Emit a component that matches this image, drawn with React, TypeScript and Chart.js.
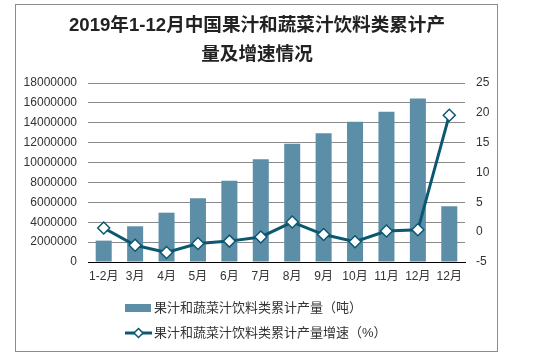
import React, { useEffect, useRef } from "react";
import { Chart, registerables } from "chart.js";

Chart.register(...registerables);

const categories = ["1-2月", "3月", "4月", "5月", "6月", "7月", "8月", "9月", "10月", "11月", "12月", "12月"];
const outputTons = [2150000, 3590000, 4960000, 6400000, 8180000, 10320000, 11900000, 12940000, 14110000, 15120000, 16430000, 5600000];
const growthPct = [0.7, -2.2, -3.4, -1.9, -1.5, -0.8, 1.7, -0.4, -1.6, 0.2, 0.4, 19.6];
const titleLines = ["2019年1-12月中国果汁和蔬菜汁饮料类累计产", "量及增速情况"];
const seriesNames = ["果汁和蔬菜汁饮料类累计产量（吨）", "果汁和蔬菜汁饮料类累计产量增速（%）"];

const FONT = '"Liberation Sans", Arial, "Noto Sans CJK SC", sans-serif';
const BAR_COLOR = "#5c8fa7";
const LINE_COLOR = "#0b5870";

const decorPlugin = {
  id: "decor",
  beforeDraw(chart: any) {
    const ctx = chart.ctx;
    ctx.save();
    ctx.fillStyle = "#ffffff";
    ctx.fillRect(0, 0, chart.width, chart.height);
    ctx.strokeStyle = "#8c8c8c";
    ctx.lineWidth = 1;
    ctx.strokeRect(15.5, 4.5, 482, 347);
    ctx.restore();
  },
  afterDraw(chart: any) {
    const ctx = chart.ctx;
    ctx.save();
    // title
    ctx.fillStyle = "#222222";
    ctx.font = `bold 18.6px ${FONT}`;
    ctx.textAlign = "center";
    ctx.textBaseline = "middle";
    ctx.fillText(titleLines[0], 257, 26);
    ctx.fillText(titleLines[1], 257, 55);
    // legend
    ctx.font = `13px ${FONT}`;
    ctx.textAlign = "left";
    ctx.fillStyle = BAR_COLOR;
    ctx.fillRect(125, 304, 26, 8);
    ctx.fillStyle = "#333333";
    ctx.fillText(seriesNames[0], 154, 308.5);
    ctx.strokeStyle = LINE_COLOR;
    ctx.lineWidth = 3;
    ctx.beginPath();
    ctx.moveTo(125, 333);
    ctx.lineTo(152, 333);
    ctx.stroke();
    ctx.fillStyle = "#ffffff";
    ctx.lineWidth = 1.5;
    ctx.beginPath();
    ctx.moveTo(138.5, 328.5);
    ctx.lineTo(143, 333);
    ctx.lineTo(138.5, 337.5);
    ctx.lineTo(134, 333);
    ctx.closePath();
    ctx.fill();
    ctx.stroke();
    ctx.fillStyle = "#333333";
    ctx.fillText(seriesNames[1], 154, 333.5);
    ctx.restore();
  },
};

export default function App() {
  const canvasRef = useRef<HTMLCanvasElement | null>(null);

  useEffect(() => {
    if (!canvasRef.current) return;
    const chart = new Chart(canvasRef.current, {
      type: "bar",
      data: {
        labels: categories,
        datasets: [
          {
            type: "line",
            label: seriesNames[1],
            data: growthPct,
            yAxisID: "y1",
            borderColor: LINE_COLOR,
            borderWidth: 3,
            pointStyle: "rectRot",
            pointRadius: 6,
            pointBorderWidth: 1.5,
            pointBackgroundColor: "#ffffff",
            pointBorderColor: LINE_COLOR,
            tension: 0,
            order: 0,
          } as any,
          {
            type: "bar",
            label: seriesNames[0],
            data: outputTons,
            yAxisID: "y",
            backgroundColor: BAR_COLOR,
            barPercentage: 0.51,
            categoryPercentage: 1,
            order: 1,
          },
        ],
      },
      options: {
        animation: false,
        responsive: false,
        maintainAspectRatio: false,
        layout: { padding: { top: 83, left: 0, right: 0, bottom: 69 } },
        plugins: {
          legend: { display: false },
          title: { display: false },
          tooltip: { enabled: false },
        },
        scales: {
          x: {
            grid: { display: false, drawTicks: false },
            border: { display: true, color: "#000000", width: 1 },
            ticks: {
              color: "#333333",
              font: { family: FONT, size: 12 },
              padding: 7,
              maxRotation: 0,
              autoSkip: false,
            },
            afterFit(scale: any) {
              scale.height = 30;
            },
          },
          y: {
            position: "left",
            min: 0,
            max: 18000000,
            grid: { color: "#8a8a8a", drawTicks: false, lineWidth: 1 },
            border: { display: false },
            ticks: {
              stepSize: 2000000,
              color: "#333333",
              font: { family: FONT, size: 12 },
              padding: 11,
              callback: (v: any) => String(v),
            },
            afterFit(scale: any) {
              scale.width = 88;
            },
          },
          y1: {
            position: "right",
            min: -5,
            max: 25,
            grid: { display: false, drawTicks: false },
            border: { display: false },
            ticks: {
              stepSize: 5,
              color: "#333333",
              font: { family: FONT, size: 12 },
              padding: 11,
            },
            afterFit(scale: any) {
              scale.width = 85;
            },
          },
        },
      },
      plugins: [decorPlugin],
    });
    return () => chart.destroy();
  }, []);

  return (
    <div style={{ position: "fixed", left: 0, top: 0, width: 550, height: 361 }}>
      <canvas ref={canvasRef} width={550} height={361} style={{ display: "block", width: 550, height: 361 }} />
    </div>
  );
}
